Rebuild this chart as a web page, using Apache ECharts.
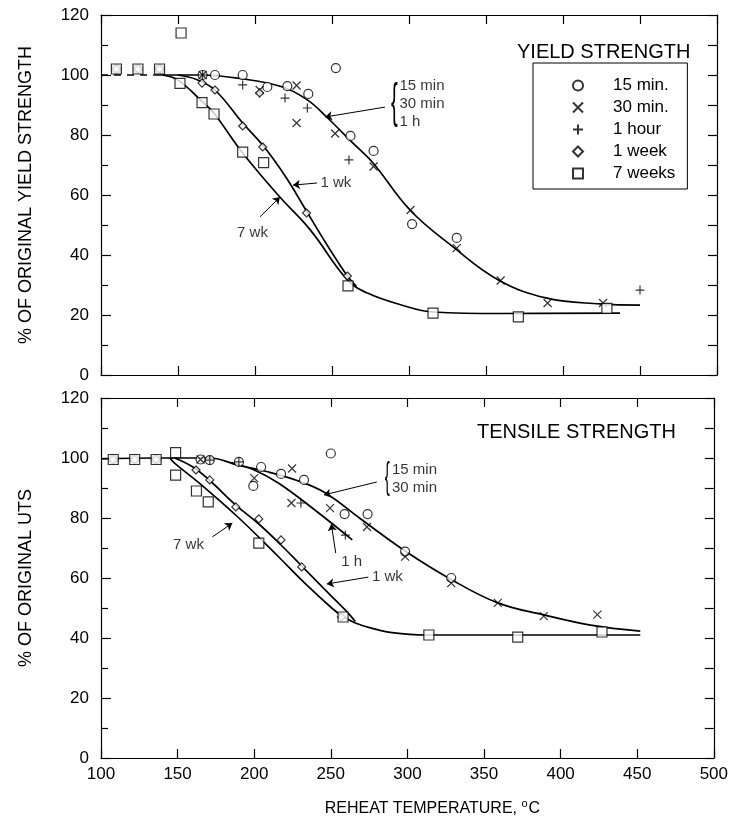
<!DOCTYPE html>
<html><head><meta charset="utf-8">
<script src="https://cdn.jsdelivr.net/npm/echarts@6/dist/echarts.min.js"></script>
<style>html,body{margin:0;padding:0;background:#fff}#c{width:731px;height:827px}</style>
</head><body><div id="c"></div>
<script>
// ---------- axis ticks ----------
const xTickLabels = [100,150,200,250,300,350,400,450,500];
const yTickLabels = [0,20,40,60,80,100,120];
const seriesNames = ['15 min.','30 min.','1 hour','1 week','7 weeks'];

// ---------- YIELD STRENGTH (top) ----------
const ysCircle = [[110,102],[124,102],[138,102],[166,100],[174,100],[192,100],[208,96],[221,96.3],[234.6,93.7],[252.5,102.3],[262,79.7],[277,74.7],[302,50.3],[331,45.7]];
const ysCross = [[166,100],[203,95],[227,96.5],[227,84],[252,80.5],[277,69.5],[301,55],[331,42.3],[359.5,31.5],[390,24],[426,24]];
const ysPlus = [[166,100],[192,96.7],[203,94],[219.5,92.3],[234,89],[261,71.7],[450,28.3]];
const ysDiamond = [[110,102],[124,102],[138,102],[165.6,97.3],[174,95],[192,83],[205,76],[203,94],[233.5,54],[260,33]];
const ysSquare = [[110,102],[124,102],[138,102],[152,114],[151.3,97.2],[165.6,90.8],[173.4,87],[192,74.3],[205.6,70.8],[260.4,29.7],[315.6,20.6],[371,19.4],[428.5,22.2]];
const ysCurveShort = [[135,100],[164,100],[192,98.7],[218,96],[234,91.7],[246.5,86],[263.6,77.3],[276.8,70.6],[300.6,55],[328.6,42.7],[358,31.7],[389.6,25.6],[424,23.7],[450,23.3]];
const ysCurve1wk = [[150,100],[162,98.5],[174,95],[192,84],[206,76],[220,66],[233,55],[246,44],[260,33],[266,29.5]];
const ysCurve7wk = [[140,100],[150,98.3],[165,91.5],[173,87.5],[192,74],[216,59.4],[236,48.3],[260,31.7],[273,27.3],[294,23.5],[316,21],[360,20.5],[437,20.6]];
const ysCurveDash = [[100,100],[135,100]];
const ysLabels = [
  {text:'15 min\n30 min\n1 h', at:[293.5,90.3], pos:'right'},
  {text:'1 wk', at:[242.2,64], pos:'right'},
  {text:'7 wk', at:[198.4,47.3], pos:'inside'}
];
const ysBraces = [{at:[288.3,90.3], size:48}];
const ysArrows = [
  {from:[284.4,89.3], to:[245.5,86]},
  {from:[240.3,64], to:[224.7,63.3]},
  {from:[203.2,52.7], to:[216.2,59.3]}
];

// ---------- TENSILE STRENGTH (bottom) ----------
const utsCircle = [[108,99.5],[122,99.5],[136,99.5],[165,99.5],[171,99.3],[190,98.7],[199.4,90.7],[204.5,97],[217.5,94.7],[232.5,92.7],[250,101.5],[259,81.3],[274,81.3],[298.5,68.8],[328.6,60]];
const utsCross = [[165,99.5],[200,93.3],[224.7,96.5],[224.3,85],[249.5,83.3],[273.6,77],[298.5,67.1],[328.6,58.3],[359,51.7],[389,47.3],[424,47.8]];
const utsPlus = [[171,99.3],[190,98.7],[230.5,85],[259.5,74.3]];
const utsDiamond = [[108,99.5],[122,99.5],[136,99.5],[162,96],[171,92.7],[188,83.7],[203,79.7],[217.5,72.7],[231,63.7],[257,47]];
const utsSquare = [[108,99.5],[122,99.5],[136,99.5],[148.7,101.8],[148.7,94.3],[162.3,89],[170,85.4],[203,71.6],[258,47],[314,41],[372,40.3],[427,42]];
const utsCurveShort = [[100,99.7],[136,100],[171,100],[190,97.5],[208,95.5],[228,92.5],[246,88.5],[270,79.5],[298.5,69],[328.6,59.5],[359,51.7],[389,47.7],[419.5,44.3],[452,42.3]];
const utsCurve1h = [[185,98.5],[200,96],[216,91.6],[240,82.5],[264,72.7]];
const utsCurve1wk = [[148,100],[160,97],[171,92.5],[188,84.3],[203,78],[217.5,71],[231,64],[245,56.7],[259.7,49.2],[266,45.5]];
const utsCurve7wk = [[145,100],[148,98.3],[164,91.7],[190,80],[216,67],[233,58.3],[250.6,50],[257,47.5],[266,45],[276.6,43.3],[290,41.8],[311.7,41],[360,41],[452,41]];
const utsLabels = [
  {text:'15 min\n30 min', at:[289.6,93.2], pos:'right'},
  {text:'1 h', at:[263.6,65.3], pos:'inside'},
  {text:'1 wk', at:[276.5,60.3], pos:'right'},
  {text:'7 wk', at:[157.1,71], pos:'inside'}
];
const utsBraces = [{at:[285.2,93.2], size:36}];
const utsArrows = [
  {from:[280,92], to:[245.5,87.7]},
  {from:[253.2,68.3], to:[250.3,78]},
  {from:[274.5,60.3], to:[247.4,58]},
  {from:[172.7,73.7], to:[185.7,78.3]}
];

// ---------- build ----------
const FONT = "'Liberation Sans', Arial, Helvetica, sans-serif";
const SYM = {
  circle: 'circle',
  cross: 'path://M0,0L10,10M10,0L0,10',
  plus: 'path://M5,0L5,10M0,5L10,5',
  diamond: 'path://M5,0L10,5L5,10L0,5Z',
  square: 'rect'
};
const black = '#000';
function scatter(name, data, sym, size, open, gi) {
  return {type:'scatter', name, data, symbol:sym, symbolSize:size,
    xAxisIndex:gi*2, yAxisIndex:gi*2, silent:true, z:4,
    itemStyle:{color: open ? 'rgba(0,0,0,0)' : '#fff', borderColor:black, borderWidth:1.2}};
}
function curve(data, gi, dashed) {
  return {type:'line', data, xAxisIndex:gi*2, yAxisIndex:gi*2, silent:true, z:3,
    smooth:0.4, showSymbol:false, symbol:'none',
    lineStyle:{color:black, width:1.7, type: dashed ? [7,6] : 'solid'}};
}
function notes(labels, arrows, gi) {
  return {type:'scatter', xAxisIndex:gi*2, yAxisIndex:gi*2, silent:true, z:5,
    symbolSize:1, itemStyle:{color:'rgba(0,0,0,0)'},
    data: labels.map(l => ({value:l.at, name:l.text,
      label:{show:true, formatter:l.text, position:l.pos, distance:0,
        fontSize:15, lineHeight:18, color:black, fontFamily:FONT}})),
    markLine:{silent:true, animation:false, symbol:['none','arrow'], symbolSize:7,
      lineStyle:{color:black, width:1, type:'solid'}, label:{show:false},
      data: arrows.map(a => [{coord:a.from}, {coord:a.to}])}};
}
function xAx(gi, pos, labels) {
  const a = {type:'value', gridIndex:gi, position:pos, min:xTickLabels[0], max:xTickLabels[xTickLabels.length-1],
    interval:xTickLabels[1]-xTickLabels[0],
    axisLine:{show:true, onZero:false, lineStyle:{color:black, width:1.2}},
    axisTick:{show:true, inside:true, length:9, lineStyle:{color:black, width:1.2}},
    splitLine:{show:false},
    axisLabel:{show:labels, fontSize:17, color:black, fontFamily:FONT, margin:8}};
  if (labels) {
    a.name = 'REHEAT TEMPERATURE, {sup|o}C';
    a.nameLocation = 'middle';
    a.nameGap = 40;
    a.nameTextStyle = {fontSize:16, color:black, fontFamily:FONT, padding:[0,0,0,50],
      rich:{sup:{fontSize:11, padding:[0,1,10,0], color:black, fontFamily:FONT}}};
  }
  return a;
}
function yAx(gi, pos, labels, name) {
  const a = {type:'value', gridIndex:gi, position:pos, min:yTickLabels[0], max:yTickLabels[yTickLabels.length-1],
    interval: labels ? yTickLabels[1]-yTickLabels[0] : (yTickLabels[1]-yTickLabels[0])/2,
    axisLine:{show:true, onZero:false, lineStyle:{color:black, width:1.2}},
    axisTick:{show:true, inside:true, length: labels ? 10 : 9, lineStyle:{color:black, width:1.2}},
    minorTick: labels ? {show:true, splitNumber:2, length:7, lineStyle:{color:black, width:1.2}} : {show:false},
    splitLine:{show:false},
    axisLabel:{show:labels, fontSize:17, color:black, fontFamily:FONT, margin:12}};
  if (name) {
    a.name = name; a.nameLocation = 'middle'; a.nameGap = 66; a.nameRotate = 90;
    a.nameTextStyle = {fontSize:18, color:black, fontFamily:FONT};
  }
  return a;
}
const groups = [
  {c:ysCircle, x:ysCross, p:ysPlus, d:ysDiamond, s:ysSquare},
  {c:utsCircle, x:utsCross, p:utsPlus, d:utsDiamond, s:utsSquare}
];
const series = [];
groups.forEach((g, gi) => {
  series.push(scatter(seriesNames[0], g.c, SYM.circle, 9, false, gi));
  series.push(scatter(seriesNames[1], g.x, SYM.cross, 8, true, gi));
  series.push(scatter(seriesNames[2], g.p, SYM.plus, 9, true, gi));
  series.push(scatter(seriesNames[3], g.d, SYM.diamond, 8, false, gi));
  series.push(scatter(seriesNames[4], g.s, SYM.square, 10, false, gi));
});
series.push(curve(ysCurveShort, 0), curve(ysCurve1wk, 0), curve(ysCurve7wk, 0), curve(ysCurveDash, 0, true));
series.push(curve(utsCurveShort, 1), curve(utsCurve1h, 1), curve(utsCurve1wk, 1), curve(utsCurve7wk, 1));
series.push(notes(ysLabels, ysArrows, 0), notes(utsLabels, utsArrows, 1));

const chart = echarts.init(document.getElementById('c'), null, {renderer:'canvas'});
chart.setOption({
  animation:false,
  backgroundColor:'#fff',
  title:[
    {text:'YIELD STRENGTH', left:517, top:42, padding:0, textStyle:{fontSize:20, fontWeight:'normal', color:black, fontFamily:FONT}},
    {text:'TENSILE STRENGTH', left:477, top:422, padding:0, textStyle:{fontSize:20, fontWeight:'normal', color:black, fontFamily:FONT}}
  ],
  legend:{data:seriesNames, orient:'vertical', left:533, top:63, padding:[14,12,7,39], itemGap:5,
    itemWidth:10, itemHeight:10, itemTextGap:5, borderColor:black, borderWidth:1, selectedMode:false,
    textStyle:{fontSize:17, lineHeight:17, color:black, fontFamily:FONT, padding:[0,0,0,25]}},
  grid:[
    {left:101, right:14, top:15, height:360},
    {left:101, right:14, top:398, height:360}
  ],
  xAxis:[xAx(0,'bottom',false), xAx(0,'top',false), xAx(1,'bottom',true), xAx(1,'top',false)],
  yAxis:[yAx(0,'left',true,'% OF ORIGINAL YIELD STRENGTH'), yAx(0,'right',false),
         yAx(1,'left',true,'% OF ORIGINAL UTS'), yAx(1,'right',false)],
  series
});
// braces: positioned through the grid's own scale, narrowed horizontally
const braceEls = [];
[[ysBraces,0],[utsBraces,1]].forEach(([list, gi]) => list.forEach(b => {
  const p = chart.convertToPixel({gridIndex:gi}, b.at);
  braceEls.push({type:'text', x:p[0], y:p[1], scaleX:0.42, z:10, silent:true,
    style:{text:'{', fontSize:b.size, fontFamily:FONT, fill:black, align:'left', verticalAlign:'middle'}});
}));
chart.setOption({graphic:braceEls});
</script></body></html>
